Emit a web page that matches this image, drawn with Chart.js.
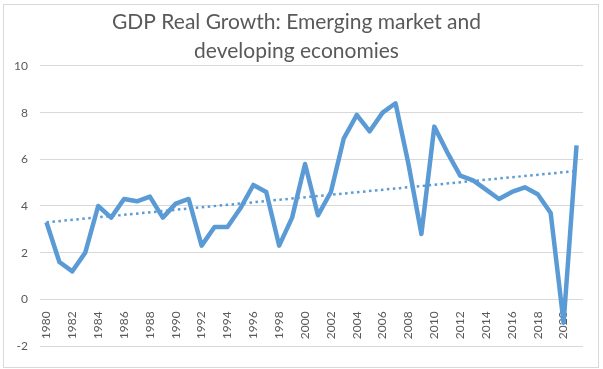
<!DOCTYPE html>
<html>
<head>
<meta charset="utf-8">
<script src="https://cdn.jsdelivr.net/npm/chart.js@4"></script>
<style>
  html, body { margin: 0; padding: 0; background: #fff; }
  #frame {
    position: absolute; left: 3px; top: 4px; width: 594px; height: 362px;
    border: 1px solid #d9d9d9; background: #fff;
  }
  #chart { width: 594px; height: 362px; display: block; }
</style>
</head>
<body>
<div id="frame"><canvas id="chart" width="594" height="362"></canvas></div>
<script>
const years = [];
for (let y = 1980; y <= 2021; y++) years.push(String(y));

const growth = [
  3.3, 1.6, 1.2, 2.0, 4.0, 3.5, 4.3, 4.2, 4.4, 3.5,
  4.1, 4.3, 2.3, 3.1, 3.1, 3.9, 4.9, 4.6, 2.3, 3.5,
  5.8, 3.6, 4.6, 6.9, 7.9, 7.2, 8.0, 8.4, 5.8, 2.8,
  7.4, 6.3, 5.3, 5.1, 4.7, 4.3, 4.6, 4.8, 4.5, 3.7,
  -1.0, 6.6
];

// trendline ends
const trendStart = 3.3;
const trendEnd = 5.5;
const trend = years.map((_, i) => i === 0 ? trendStart : (i === years.length - 1 ? trendEnd : null));

const blue = '#5b9bd5';
const grey = '#595959';
const font = "Lato, 'Open Sans', sans-serif";

new Chart(document.getElementById('chart'), {
  type: 'line',
  data: {
    labels: years,
    datasets: [{
      label: 'Trend',
      data: trend,
      borderColor: blue,
      borderWidth: 2.5,
      borderDash: [2.5, 3.5],
      pointRadius: 0,
      spanGaps: true,
      order: 0
    }, {
      label: 'GDP Real Growth',
      data: growth,
      borderColor: blue,
      borderWidth: 4.5,
      borderJoinStyle: 'round',
      pointRadius: 0,
      tension: 0,
      order: 1
    }]
  },
  options: {
    responsive: false,
    animation: false,
    layout: { padding: { left: 6, right: 15, top: 0, bottom: 21 } },
    plugins: {
      legend: { display: false },
      tooltip: { enabled: false },
      title: {
        display: true,
        text: ['GDP Real Growth: Emerging market and', 'developing economies'],
        color: grey,
        font: { family: font, size: 21, weight: 'normal', lineHeight: 1.38 },
        padding: { top: 3, bottom: 0 }
      }
    },
    scales: {
      x: {
        position: { y: 0 },
        offset: true,
        z: 1,
        grid: { display: false },
        border: { display: false },
        ticks: {
          autoSkip: false,
          maxRotation: 90,
          minRotation: 90,
          padding: 4,
          color: grey,
          font: { family: font, size: 12 },
          callback: function (value, index) {
            return index % 2 === 0 ? this.getLabelForValue(value) : '';
          }
        }
      },
      y: {
        min: -2,
        max: 10,
        afterFit: s => { s.width = 30; },
        grid: { color: '#d9d9d9', drawTicks: false },
        border: { display: false },
        ticks: {
          stepSize: 2,
          padding: 12,
          color: grey,
          font: { family: font, size: 12 }
        }
      }
    }
  }
});
</script>
</body>
</html>
